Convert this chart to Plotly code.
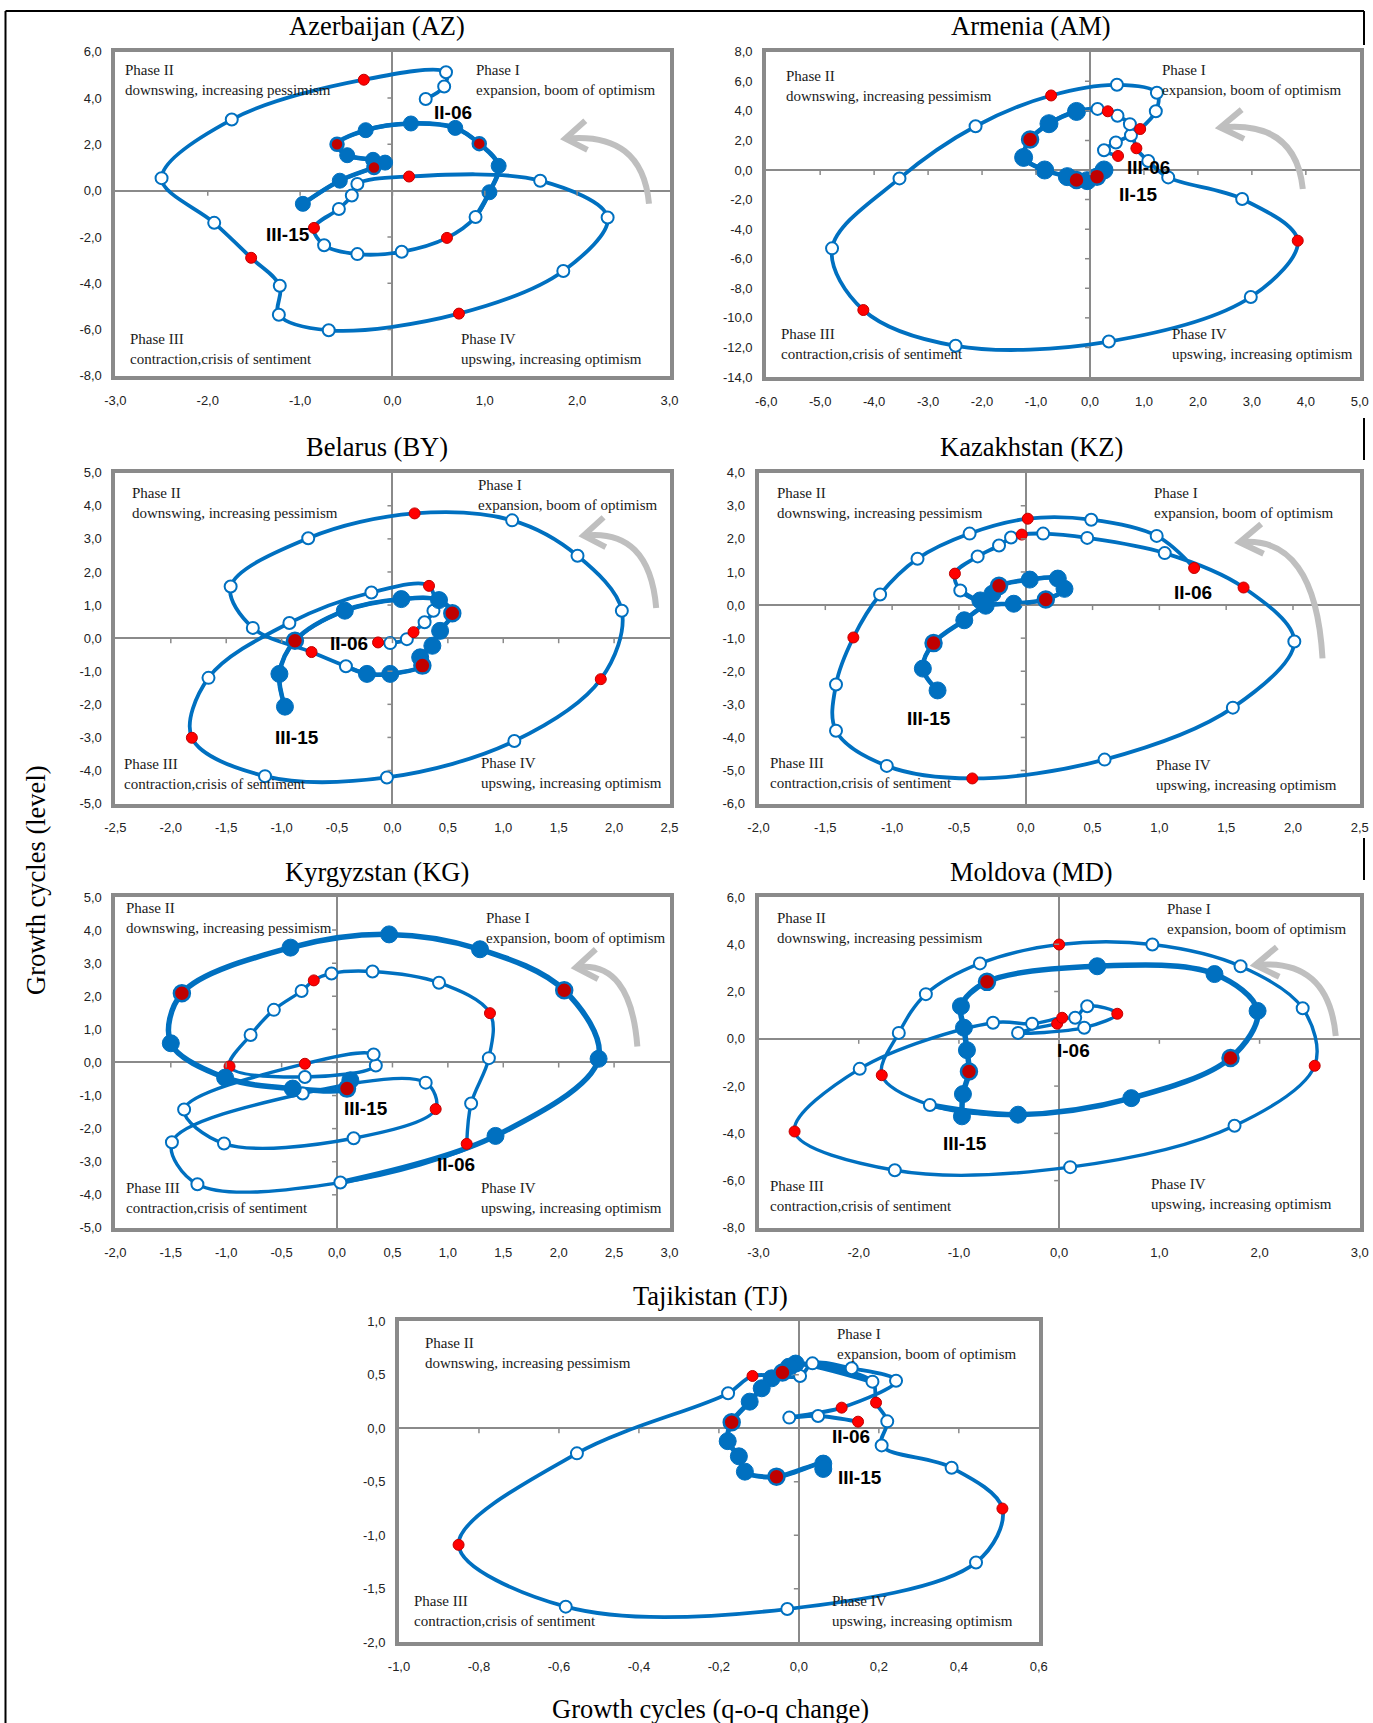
import plotly.graph_objects as go

W, H = 1373, 1723
BLUE = "#0070C0"

# ---------------- data (x = q-o-q change, y = level), T = marker type ----------------
# w = white hollow, r = small red, b = big blue, d = big dark red
AZ_X = [0.36, 0.56, 0.58, -0.31, -1.74, -2.50, -1.93, -1.53, -1.22, -1.23, -0.69, 0.72, 1.85, 2.33, 1.60, 0.18,
        -0.38, -0.44, -0.58, -0.85, -0.74, -0.38, 0.10, 0.59, 0.90, 1.05, 1.15, 0.94, 0.68, 0.20, -0.29, -0.60,
        -0.49, -0.21, -0.08, -0.20, -0.57, -0.97]
AZ_Y = [3.96, 4.50, 5.11, 4.79, 3.07, 0.54, -1.39, -2.90, -4.11, -5.36, -6.03, -5.31, -3.47, -1.16, 0.43, 0.61,
        0.29, -0.21, -0.79, -1.61, -2.36, -2.74, -2.64, -2.04, -1.14, -0.07, 1.07, 2.03, 2.71, 2.90, 2.61, 2.00,
        1.53, 1.33, 1.21, 1.00, 0.43, -0.57]
AZ_T = list("wwwrwwwrwwwrwwwrwwwrwwwrwbbdbbbdbbbdbb")

AM_X = [0.52, 0.26, 0.48, 0.76, 0.93, 1.22, 1.24, 0.50, -0.72, -2.12, -3.53, -4.78, -4.20, -2.49, 0.35, 2.98,
        3.85, 2.82, 1.45, 1.08, 0.86, 0.74, 0.51, 0.33, 0.14, -0.25, -0.76, -1.11, -1.23, -0.84, -0.42, -0.25,
        -0.05, 0.13, 0.26]
AM_Y = [0.95, 1.34, 1.86, 2.35, 2.77, 3.97, 5.22, 5.76, 5.04, 2.96, -0.57, -5.30, -9.47, -11.89, -11.60, -8.59,
        -4.78, -1.96, -0.50, 0.61, 1.47, 3.10, 3.67, 3.97, 4.13, 3.96, 3.13, 2.06, 0.85, 0.00, -0.45, -0.68,
        -0.72, -0.45, 0.00]
AM_T = list("rwwwrwwwrwwwrwwwrwwwrwwrwbbdbbbdbdb")

BY_X = [-0.13, -0.02, 0.13, 0.19, 0.29, 0.37, 0.33, -0.19, -0.93, -1.66, -1.81, -1.15, -0.05, 1.10, 1.88, 2.07,
        1.67, 1.08, 0.20, -0.76, -1.46, -1.26, -0.73, -0.42, -0.23, -0.02, 0.27, 0.25, 0.36, 0.43, 0.54, 0.42,
        0.08, -0.43, -0.88, -1.02, -0.97]
BY_Y = [-0.13, -0.15, -0.03, 0.18, 0.48, 0.83, 1.58, 1.38, 0.46, -1.20, -3.01, -4.17, -4.21, -3.11, -1.24, 0.83,
        2.49, 3.56, 3.77, 3.02, 1.56, 0.31, -0.42, -0.85, -1.08, -1.08, -0.83, -0.58, -0.23, 0.22, 0.75, 1.15,
        1.18, 0.83, -0.08, -1.08, -2.07]
BY_T = list("rwwrwwrwwwrwwwrwwwrwwwrwbbdbbbdbbbdbb")

KZ_X = [1.26, 0.98, 0.49, 0.015, -0.42, -0.81, -1.09, -1.29, -1.42, -1.42, -1.04, -0.40, 0.59, 1.55, 2.01, 1.63,
        1.04, 0.46, 0.13, -0.03, -0.11, -0.20, -0.36, -0.53, -0.49, -0.34, -0.25, -0.20, 0.03, 0.24, 0.29, 0.15,
        -0.09, -0.30, -0.46, -0.69, -0.77, -0.66]
KZ_Y = [1.12, 2.09, 2.58, 2.61, 2.16, 1.40, 0.32, -0.98, -2.40, -3.80, -4.86, -5.24, -4.67, -3.10, -1.10, 0.53,
        1.57, 2.03, 2.16, 2.13, 2.04, 1.80, 1.47, 0.95, 0.44, 0.14, 0.34, 0.58, 0.77, 0.80, 0.49, 0.17,
        0.04, -0.02, -0.46, -1.15, -1.92, -2.58]
KZ_T = list("rwwrwwwrwwwrwwwrwwwrwwwrwbbdbbbdbbbdbb")

KG_X = [1.17, 1.21, 1.37, 1.38, 0.92, 0.32, -0.05, -0.21, -0.32, -0.57, -0.78, -0.97, -0.29, 0.35, 0.33, -0.29,
        -1.38, -1.02, 0.15, 0.89, 0.80, -0.31, -1.49, -1.26, 0.03, 1.43, 2.36, 2.05, 1.29, 0.47, -0.42, -1.40,
        -1.50, -1.01, -0.40, 0.09, 0.12]
KG_Y = [-2.46, -1.24, 0.13, 1.49, 2.41, 2.75, 2.69, 2.48, 2.16, 1.59, 0.83, -0.12, -0.44, -0.09, 0.24, -0.04,
        -1.42, -2.45, -2.29, -1.41, -0.61, -0.94, -2.41, -3.68, -3.63, -2.22, 0.11, 2.18, 3.42, 3.87, 3.47, 2.09,
        0.58, -0.46, -0.79, -0.79, -0.54]
KG_T = list("rwwrwwwrwwwrwwwrwwwrwwwwwbbdbbbdbbbdb")

MD_X = [-0.02, -0.41, 0.25, 0.58, 0.28, 0.16, 0.03, -0.27, -0.66, -1.99, -2.64, -1.64, 0.11, 1.75, 2.55, 2.43,
        1.81, 0.93, 0.00, -0.79, -1.33, -1.60, -1.77, -1.29, -0.41, 0.72, 1.71, 1.98, 1.55, 0.38, -0.72, -0.98,
        -0.95, -0.92, -0.90, -0.96, -0.97]
MD_Y = [0.64, 0.25, 0.47, 1.06, 1.38, 0.89, 0.89, 0.64, 0.68, -1.27, -3.92, -5.56, -5.43, -3.68, -1.14, 1.29,
        3.07, 3.99, 3.99, 3.19, 1.89, 0.25, -1.54, -2.80, -3.21, -2.51, -0.81, 1.18, 2.74, 3.07, 2.41, 1.38,
        0.47, -0.48, -1.38, -2.34, -3.28]
MD_T = list("rwwrwwrwwwrwwwrwwwrwwwrwbbdbbbdbbbdbb")

TJ_X = [0.148, 0.048, -0.024, 0.107, 0.243, 0.132, 0.034, 0.003, -0.116, -0.177, -0.555, -0.851, -0.583, -0.029,
        0.443, 0.509, 0.382, 0.207, 0.221, 0.193, 0.184, -0.008, -0.025, -0.041, -0.068, -0.093, -0.123, -0.168,
        -0.178, -0.150, -0.135, -0.056, 0.061, 0.061]
TJ_Y = [0.062, 0.115, 0.100, 0.193, 0.445, 0.561, 0.607, 0.489, 0.489, 0.327, -0.234, -1.089, -1.667, -1.689,
        -1.254, -0.750, -0.368, -0.160, 0.065, 0.240, 0.436, 0.605, 0.575, 0.522, 0.467, 0.374, 0.249, 0.056,
        -0.120, -0.262, -0.405, -0.452, -0.330, -0.380]
TJ_T = list("rwwrwwwwrwwrwwwrwwwrwbbdbbbdbbbdbb")

PHASES = ["Phase II<br>downswing, increasing pessimism",
          "Phase I<br>expansion, boom of optimism",
          "Phase III<br>contraction,crisis of sentiment",
          "Phase IV<br>upswing, increasing optimism"]

panels = [
    dict(title="Azerbaijan (AZ)", X=AZ_X, Y=AZ_Y, T=AZ_T, xr=[-3, 3], xd=1, yr=[-8, 6], yd=2,
         dom=(115.4, 669.5, 51.7, 375.9), tpos=(377, 26),
         labels=[("II-06", 0.655, 3.39), ("III-15", -1.13, -1.88)],
         phase=[(0.014, 0.975), (0.647, 0.975), (0.022, 0.02), (0.621, 0.02)],
         arrow=(0.963, 0.531, 0.812, 0.732), thin=3.8, thick=4.6, bs=15, ds=13),
    dict(title="Armenia (AM)", X=AM_X, Y=AM_Y, T=AM_T, xr=[-6, 5], xd=1, yr=[-14, 8], yd=2,
         dom=(766.2, 1359.8, 51.7, 377.0), tpos=(1031, 26),
         labels=[("III-06", 1.09, 0.20), ("II-15", 0.885, -1.66)],
         phase=[(0.03, 0.956), (0.663, 0.975), (0.022, 0.04), (0.68, 0.04)],
         arrow=(0.904, 0.578, 0.765, 0.767), thin=3.8, thick=4.6, bs=18, ds=16),
    dict(title="Belarus (BY)", X=BY_X, Y=BY_Y, T=BY_T, xr=[-2.5, 2.5], xd=0.5, yr=[-5, 5], yd=1,
         dom=(115.4, 669.5, 472.7, 803.6), tpos=(377, 447),
         labels=[("II-06", -0.39, -0.15), ("III-15", -0.86, -3.0)],
         phase=[(0.026, 0.97), (0.65, 0.993), (0.012, 0.03), (0.657, 0.033)],
         arrow=(0.976, 0.591, 0.845, 0.81), thin=3.8, thick=4.6, bs=17, ds=16),
    dict(title="Kazakhstan (KZ)", X=KZ_X, Y=KZ_Y, T=KZ_T, xr=[-2, 2.5], xd=0.5, yr=[-6, 4], yd=1,
         dom=(758.5, 1359.8, 472.7, 803.6), tpos=(1031, 447),
         labels=[("II-06", 1.25, 0.38), ("III-15", -0.725, -3.44)],
         phase=[(0.027, 0.97), (0.654, 0.97), (0.016, 0.033), (0.658, 0.027)],
         arrow=(0.938, 0.439, 0.80, 0.79), thin=3.8, thick=4.6, bs=17, ds=16),
    dict(title="Kyrgyzstan (KG)", X=KG_X, Y=KG_Y, T=KG_T, xr=[-2, 3], xd=0.5, yr=[-5, 5], yd=1,
         dom=(115.4, 669.5, 897.0, 1227.9), tpos=(377, 872),
         labels=[("III-15", 0.26, -1.38), ("II-06", 1.075, -3.07)],
         phase=[(0.016, 0.997), (0.665, 0.967), (0.016, 0.03), (0.657, 0.03)],
         arrow=(0.942, 0.548, 0.831, 0.787), thin=3.4, thick=5.5, bs=17, ds=16),
    dict(title="Moldova (MD)", X=MD_X, Y=MD_Y, T=MD_T, xr=[-3, 3], xd=1, yr=[-8, 6], yd=2,
         dom=(758.5, 1359.8, 897.0, 1227.9), tpos=(1031, 872),
         labels=[("I-06", 0.148, -0.51), ("III-15", -0.94, -4.42)],
         phase=[(0.027, 0.967), (0.676, 0.993), (0.016, 0.037), (0.65, 0.043)],
         arrow=(0.96, 0.58, 0.826, 0.794), thin=3.4, thick=5.5, bs=17, ds=16),
    dict(title="Tajikistan (TJ)", X=TJ_X, Y=TJ_Y, T=TJ_T, xr=[-1, 0.6], xd=0.2, yr=[-2, 1], yd=0.5,
         dom=(399.0, 1038.8, 1321.3, 1642.3), tpos=(710, 1296),
         labels=[("II-06", 0.13, -0.08), ("III-15", 0.152, -0.46)],
         phase=[(0.038, 0.962), (0.682, 0.993), (0.02, 0.034), (0.674, 0.034)],
         arrow=None, thin=3.8, thick=5.0, bs=17, ds=16),
]


def fmt(v):
    return f"{v:.1f}".replace(".", ",")


fig = go.Figure()
shapes = []
annotations = []
layout_axes = {}

TICKFONT = dict(family="Liberation Sans", size=13, color="#222")
SERIF = "Liberation Serif"

for i, p in enumerate(panels):
    k = "" if i == 0 else str(i + 1)
    xa, ya = "x" + k, "y" + k
    x0, x1, y0, y1 = p["dom"]
    xdom = [x0 / W, x1 / W]
    ydom = [1 - y1 / H, 1 - y0 / H]
    xr, yr = p["xr"], p["yr"]
    nx = int(round((xr[1] - xr[0]) / p["xd"]))
    ny = int(round((yr[1] - yr[0]) / p["yd"]))
    xt = [round(xr[0] + n * p["xd"], 6) for n in range(nx + 1)]
    yt = [round(yr[0] + n * p["yd"], 6) for n in range(ny + 1)]
    common = dict(showgrid=False, zeroline=True, zerolinecolor="#8a8a8a", zerolinewidth=1.6,
                  showline=True, linecolor="#8a8a8a", linewidth=4, mirror=True,
                  ticks="outside", tickcolor="rgba(0,0,0,0)", tickmode="array",
                  tickfont=TICKFONT, fixedrange=True, automargin=False)
    layout_axes["xaxis" + k] = dict(common, domain=xdom, range=xr, tickvals=xt, ticktext=[fmt(v) for v in xt],
                                    anchor=ya, ticklen=9)
    layout_axes["yaxis" + k] = dict(common, domain=ydom, range=yr, tickvals=yt, ticktext=[fmt(v) for v in yt],
                                    anchor=xa, ticklen=7)

    X, Y, T = p["X"], p["Y"], p["T"]
    fig.add_trace(go.Scatter(x=X, y=Y, mode="lines", xaxis=xa, yaxis=ya, showlegend=False,
                             line=dict(color=BLUE, width=p["thin"], shape="spline", smoothing=1.0),
                             hoverinfo="skip"))
    first_big = next(j for j, t in enumerate(T) if t in "bd")
    s = max(first_big - 1, 0)
    fig.add_trace(go.Scatter(x=X[s:], y=Y[s:], mode="lines", xaxis=xa, yaxis=ya, showlegend=False,
                             line=dict(color=BLUE, width=p["thick"], shape="spline", smoothing=1.0),
                             hoverinfo="skip"))
    styles = {
        "w": dict(size=12, color="white", line=dict(color=BLUE, width=2)),
        "r": dict(size=11, color="#FF0000", line=dict(color="#C00000", width=1)),
        "b": dict(size=p["bs"], color=BLUE, line=dict(color=BLUE, width=1)),
        "d": dict(size=p["ds"], color="#C00000", line=dict(color=BLUE, width=2.5)),
    }
    for typ in "wrbd":
        idx = [j for j, t in enumerate(T) if t == typ]
        if not idx:
            continue
        fig.add_trace(go.Scatter(x=[X[j] for j in idx], y=[Y[j] for j in idx], mode="markers",
                                 xaxis=xa, yaxis=ya, showlegend=False, marker=styles[typ]))

    # small tick marks on the zero axes
    dx = 5 * (xr[1] - xr[0]) / (x1 - x0)
    dy = 5 * (yr[1] - yr[0]) / (y1 - y0)
    for v in xt[1:-1]:
        shapes.append(dict(type="line", xref=xa, yref=ya, x0=v, x1=v, y0=0, y1=-dy,
                           line=dict(color="#8a8a8a", width=1.5)))
    for v in yt[1:-1]:
        shapes.append(dict(type="line", xref=xa, yref=ya, x0=0, x1=-dx, y0=v, y1=v,
                           line=dict(color="#8a8a8a", width=1.5)))

    annotations.append(dict(text=p["title"], x=p["tpos"][0] / W, y=1 - p["tpos"][1] / H, xref="paper",
                            yref="paper", showarrow=False, xanchor="center", yanchor="middle",
                            font=dict(family=SERIF, size=26.5, color="black")))
    for n, (fx, fy) in enumerate(p["phase"]):
        annotations.append(dict(text=PHASES[n], x=fx, y=fy, xref=xa + " domain", yref=ya + " domain",
                                showarrow=False, xanchor="left", yanchor="top" if n < 2 else "bottom",
                                align="left", font=dict(family=SERIF, size=15, color="#1a1a1a")))
    for txt, lx, ly in p["labels"]:
        annotations.append(dict(text="<b>" + txt + "</b>", x=lx, y=ly, xref=xa, yref=ya, showarrow=False,
                                xanchor="center", yanchor="middle",
                                font=dict(family="Liberation Sans Narrow, Liberation Sans", size=19,
                                          color="black")))
    if p["arrow"]:
        sx, sy, tx, ty = p["arrow"]

        def P(fx, fy):
            return x0 / W + fx * (x1 - x0) / W, (1 - y1 / H) + fy * (y1 - y0) / H
        a = P(sx, sy); c = P(sx - 0.012, ty + 0.023); t = P(tx, ty)
        h1 = P(tx + 0.036, ty + 0.055); h2 = P(tx + 0.04, ty - 0.035)
        shapes.append(dict(type="path", path=f"M {a[0]},{a[1]} Q {c[0]},{c[1]} {t[0]},{t[1]}",
                           xref="paper", yref="paper", line=dict(color="#BFBFBF", width=6)))
        shapes.append(dict(type="path", path=f"M {h1[0]},{h1[1]} L {t[0]},{t[1]} L {h2[0]},{h2[1]}",
                           xref="paper", yref="paper", line=dict(color="#BFBFBF", width=6)))

annotations.append(dict(text="Growth cycles (level)", x=36 / W, y=1 - 880 / H, xref="paper", yref="paper",
                        showarrow=False, textangle=-90, xanchor="center", yanchor="middle",
                        font=dict(family=SERIF, size=26.5, color="black")))
annotations.append(dict(text="Growth cycles (q-o-q change)", x=710 / W, y=1 - 1709 / H, xref="paper",
                        yref="paper", showarrow=False, xanchor="center", yanchor="middle",
                        font=dict(family=SERIF, size=26.5, color="black")))


def seg(xa_, ya_, xb_, yb_):
    return dict(type="line", xref="paper", yref="paper", x0=xa_ / W, y0=1 - ya_ / H, x1=xb_ / W, y1=1 - yb_ / H,
                line=dict(color="black", width=2))


shapes += [seg(5.5, 11, 5.5, 1723), seg(5.5, 11, 1364, 11), seg(1364, 11, 1364, 45),
           seg(1364, 418, 1364, 460), seg(1364, 838, 1364, 880)]

fig.update_layout(width=W, height=H, margin=dict(l=0, r=0, t=0, b=0, pad=0, autoexpand=False),
                  paper_bgcolor="white", plot_bgcolor="white", shapes=shapes, annotations=annotations,
                  **layout_axes)
fig.write_html("out.html", config={"displayModeBar": False},
               post_script="document.body.style.margin='0';document.body.style.overflow='hidden';")
